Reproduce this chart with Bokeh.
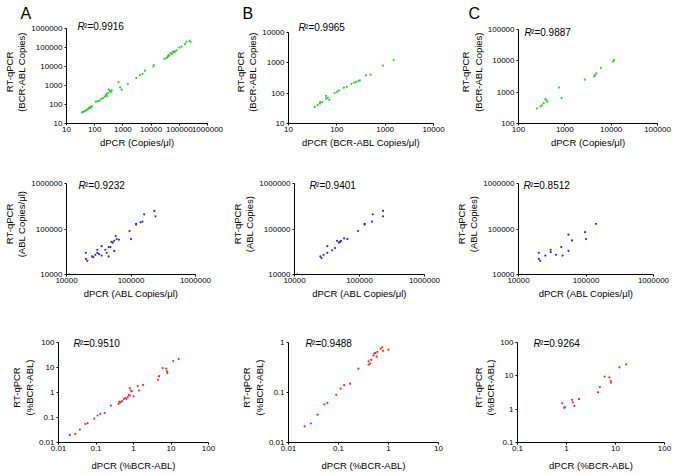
import math
from bokeh.plotting import figure
from bokeh.layouts import column, row
from bokeh.models import FixedTicker, CustomJSTickFormatter, Label, Range1d, LogAxis
from bokeh.embed import file_html
from bokeh.resources import INLINE

FONT = "Liberation Sans"

# ---------------- data ----------------
a1_x = [35, 38, 40, 45, 50, 55, 60, 65, 70, 75, 80, 110, 130, 150, 170, 200, 230, 250, 260, 280,
        300, 320, 350, 370, 400, 700, 800, 900, 1500, 3000, 4000, 5000, 6000, 12000, 12500,
        30000, 35000, 38000, 40000, 42000, 45000, 50000, 55000, 60000, 65000, 70000, 80000,
        100000, 120000, 160000, 180000, 230000, 250000]
a1_y = [38, 40, 42, 45, 50, 55, 60, 70, 65, 75, 80, 140, 150, 160, 200, 220, 260, 300, 350, 280,
        400, 600, 500, 450, 550, 1500, 800, 600, 1200, 2500, 3500, 4000, 6000, 10000, 12000,
        25000, 28000, 30000, 35000, 40000, 38000, 50000, 45000, 60000, 55000, 62000, 70000,
        100000, 110000, 150000, 200000, 230000, 200000]
b1_x = [35, 40, 45, 45, 50, 60, 60, 65, 70, 90, 100, 110, 140, 160, 200, 230, 250, 280, 300,
        400, 500, 900, 1500]
b1_y = [35, 40, 45, 50, 50, 80, 65, 70, 60, 100, 110, 120, 150, 160, 200, 220, 230, 250, 260,
        380, 400, 800, 1200]
c1_x = [250, 300, 320, 350, 380, 400, 420, 750, 850, 2700, 4300, 4500, 4800, 6000, 11000, 11500]
c1_y = [300, 350, 380, 450, 600, 550, 500, 1400, 650, 2500, 3200, 3500, 4000, 6000, 9500, 10500]

a2_x = [11000, 20000, 20000, 21000, 25000, 26000, 28000, 30000, 30000, 32000, 35000, 35000,
        40000, 42000, 45000, 45000, 48000, 50000, 52000, 55000, 55000, 58000, 60000, 65000,
        95000, 100000, 120000, 120000, 140000, 150000, 160000, 230000, 240000]
a2_y = [10000, 30000, 22000, 20000, 25000, 24000, 27000, 35000, 30000, 28000, 42000, 26000,
        35000, 30000, 40000, 25000, 40000, 52000, 50000, 55000, 33000, 70000, 60000, 58000,
        90000, 60000, 130000, 125000, 140000, 145000, 210000, 250000, 190000]
b2_x = [11000, 25000, 26000, 28000, 32000, 32000, 38000, 42000, 45000, 48000, 50000, 52000,
        58000, 65000, 95000, 120000, 120000, 155000, 160000, 230000, 230000]
b2_y = [10000, 25000, 23000, 27000, 42000, 30000, 34000, 38000, 55000, 50000, 52000, 55000,
        62000, 60000, 90000, 130000, 125000, 145000, 210000, 250000, 190000]
c2_x = [20000, 20000, 21000, 25000, 30000, 30000, 36000, 43000, 45000, 55000, 55000, 62000,
        97000, 100000, 140000]
c2_y = [30000, 22000, 20000, 26000, 35000, 31000, 27000, 40000, 26000, 33000, 75000, 56000,
        85000, 60000, 130000]

a3_x = [0.02, 0.028, 0.037, 0.052, 0.06, 0.09, 0.11, 0.13, 0.17, 0.25, 0.4, 0.42, 0.45, 0.5,
        0.55, 0.6, 0.65, 0.7, 0.75, 0.8, 0.8, 0.85, 0.9, 1.0, 1.3, 1.4, 1.8, 4.5, 4.8, 6.0,
        7.5, 7.8, 8.0, 11.5, 16.0]
a3_y = [0.02, 0.022, 0.033, 0.055, 0.06, 0.09, 0.12, 0.14, 0.15, 0.3, 0.35, 0.42, 0.4, 0.45,
        0.55, 0.6, 0.55, 0.65, 0.8, 0.75, 1.5, 1.2, 1.1, 0.7, 1.8, 1.2, 2.0, 3.2, 4.5, 9.5,
        9.0, 7.0, 6.0, 18.0, 22.0]
b3_x = [0.021, 0.028, 0.038, 0.052, 0.06, 0.09, 0.11, 0.13, 0.17, 0.25, 0.4, 0.4, 0.43, 0.45,
        0.5, 0.52, 0.55, 0.58, 0.6, 0.7, 0.75, 0.78, 1.0]
b3_y = [0.021, 0.024, 0.036, 0.058, 0.062, 0.09, 0.12, 0.14, 0.15, 0.3, 0.36, 0.42, 0.38, 0.45,
        0.55, 0.6, 0.62, 0.52, 0.65, 0.75, 0.8, 0.68, 0.72]
c3_x = [0.82, 0.9, 0.92, 1.3, 1.35, 1.45, 1.8, 4.4, 4.8, 6.0, 7.5, 8.0, 8.1, 12.0, 16.5]
c3_y = [1.5, 1.1, 1.15, 1.9, 1.6, 1.25, 2.0, 3.2, 4.6, 9.5, 9.0, 7.0, 6.2, 18.0, 22.0]

r2_values = ["0.9916", "0.9965", "0.9887",
             "0.9232", "0.9401", "0.8512",
             "0.9510", "0.9488", "0.9264"]
panel_letters = ["A", "B", "C"]

ticks_a1 = [10, 100, 1000, 10000, 100000, 1000000]
ticks_b1 = [10, 100, 1000, 10000]
ticks_c1 = [100, 1000, 10000, 100000]
ticks_abl = [10000, 100000, 1000000]
ticks_pct_a = [0.01, 0.1, 1, 10, 100]
ticks_pct_b_x = [0.01, 0.1, 1, 10]
ticks_pct_b_y = [0.01, 0.1, 1]
ticks_pct_c = [0.1, 1, 10, 100]

xlabels = ["dPCR (Copies/\u03bcl)", "dPCR (BCR-ABL Copies/\u03bcl)", "dPCR (Copies/\u03bcl)",
           "dPCR (ABL Copies/\u03bcl)", "dPCR (ABL Copies/\u03bcl)", "dPCR (ABL Copies/\u03bcl)",
           "dPCR (%BCR-ABL)", "dPCR (%BCR-ABL)", "dPCR (%BCR-ABL)"]
ylabel_top = "RT-qPCR"
ylabels = ["(BCR-ABL Copies)", "(BCR-ABL Copies)", "(BCR-ABL Copies)",
           "(ABL Copies/\u03bcl)", "(ABL Copies)", "(ABL Copies)",
           "(%BCR-ABL)", "(%BCR-ABL)", "(%BCR-ABL)"]

GREEN = "#2ecc2e"
BLUE = "#2b2bd0"
RED = "#ee2a2a"

panels = [
    (a1_x, a1_y, ticks_a1, ticks_a1, GREEN),
    (b1_x, b1_y, ticks_b1, ticks_b1, GREEN),
    (c1_x, c1_y, ticks_c1, ticks_c1, GREEN),
    (a2_x, a2_y, ticks_abl, ticks_abl, BLUE),
    (b2_x, b2_y, ticks_abl, ticks_abl, BLUE),
    (c2_x, c2_y, ticks_abl, ticks_abl, BLUE),
    (a3_x, a3_y, ticks_pct_a, ticks_pct_a, RED),
    (b3_x, b3_y, ticks_pct_b_x, ticks_pct_b_y, RED),
    (c3_x, c3_y, ticks_pct_c, ticks_pct_c, RED),
]

# ---------------- layout geometry ----------------
strip_h = 20
col_w = [228, 224, 225]
row_h = [138, 158, 158]
# (left, right, extra frame above top tick, top border, bottom border)
geom = [
    (62, 21, 8, 0, 35), (60, 19, 12, 0, 31), (66, 20, 9, 0, 35),
    (58, 33, 10, 15, 42), (60, 28, 10, 15, 42), (66, 24, 10, 15, 42),
    (58, 20, 10, 16, 32), (60, 14, 10, 16, 32), (65, 13, 10, 16, 32),
]
# R^2 label: offset from frame left, centre offset below top tick
r2_pos = [(11, -2), (10, -1), (6, 3), (12, 2), (15, 2), (5, 2), (15, 1), (17, 1), (16, 1)]
xlabel_standoff = [2, 2, 6]
letter_x = [20, 242, 468]

fmt = CustomJSTickFormatter(code="return tick.toString();")


def style_axis(ax):
    ax.axis_label_text_font = FONT
    ax.axis_label_text_font_size = "9.5px"
    ax.axis_label_text_font_style = "normal"
    ax.axis_label_text_color = "black"
    ax.major_label_text_font = FONT
    ax.major_label_text_font_size = "8px"
    ax.major_label_text_color = "black"
    ax.axis_line_color = "black"
    ax.axis_line_width = 1
    ax.major_tick_line_color = "black"
    ax.major_tick_in = 0
    ax.minor_tick_line_color = None


figs = []
for i, (xs, ys, xt, yt, colr) in enumerate(panels):
    r, c = divmod(i, 3)
    W, H = col_w[c], row_h[r]
    bl, br, ext, bt, bb = geom[i]
    fh = H - bt - bb
    tick_h = fh - ext
    dec = math.log10(yt[-1] / yt[0])
    y_top = yt[-1] * 10 ** (dec * ext / tick_h)
    p = figure(width=W, height=H, x_axis_type="log", y_axis_type="log",
               x_range=Range1d(xt[0], xt[-1]), y_range=Range1d(yt[0], y_top),
               output_backend="svg", toolbar_location=None,
               min_border_left=bl, min_border_right=br,
               min_border_top=bt, min_border_bottom=bb)
    p.outline_line_color = None
    p.grid.visible = False
    p.background_fill_color = "white"
    p.border_fill_color = "white"

    xax = p.xaxis[0]
    yax = p.yaxis[0]
    style_axis(xax)
    style_axis(yax)
    xax.ticker = FixedTicker(ticks=xt, minor_ticks=[])
    yax.ticker = FixedTicker(ticks=yt, minor_ticks=[])
    xax.formatter = fmt
    yax.formatter = fmt
    yax.bounds = (yt[0], yt[-1])
    xax.major_tick_out = 2
    xax.major_label_standoff = 1
    xax.axis_label_standoff = xlabel_standoff[r]
    yax.major_tick_out = 2
    yax.major_label_standoff = 2
    yax.axis_label_standoff = 1
    xax.axis_label = xlabels[i]
    yax.axis_label = ylabels[i]

    # outer, tick-less axis that carries the first line of the y title
    outer = LogAxis(ticker=FixedTicker(ticks=[], minor_ticks=[]), axis_label=ylabel_top)
    style_axis(outer)
    outer.axis_line_color = None
    outer.major_tick_line_color = None
    outer.major_tick_out = 0
    outer.major_label_standoff = 0
    outer.axis_label_standoff = -1
    p.add_layout(outer, "left")

    p.scatter(xs, ys, size=2.2, marker="circle", fill_color=colr, line_color=None)

    dx, dy = r2_pos[i]
    p.add_layout(Label(x=dx, y=tick_h - dy, x_units="screen", y_units="screen", text="R",
                       text_font=FONT, text_font_style="italic", text_font_size="10px",
                       text_baseline="middle", text_color="black"))
    p.add_layout(Label(x=dx + 6.6, y=tick_h - dy, x_units="screen", y_units="screen",
                       text="\u00b2=" + r2_values[i],
                       text_font=FONT, text_font_size="10px",
                       text_baseline="middle", text_color="black"))
    figs.append(p)

strip = figure(width=sum(col_w), height=strip_h, x_range=Range1d(0, 1), y_range=Range1d(0, 1),
               x_axis_location=None, y_axis_location=None, output_backend="svg",
               toolbar_location=None, min_border=0)
strip.outline_line_color = None
strip.grid.visible = False
strip.background_fill_color = "white"
strip.border_fill_color = "white"
for k, letter in enumerate(panel_letters):
    strip.add_layout(Label(x=letter_x[k], y=strip_h - 4, x_units="screen", y_units="screen",
                           text=letter, text_font=FONT, text_font_size="16px",
                           text_baseline="top", text_color="black"))

layout = column(strip, row(*figs[0:3]), row(*figs[3:6]), row(*figs[6:9]))
open("out.html", "w").write(file_html(layout, INLINE))
